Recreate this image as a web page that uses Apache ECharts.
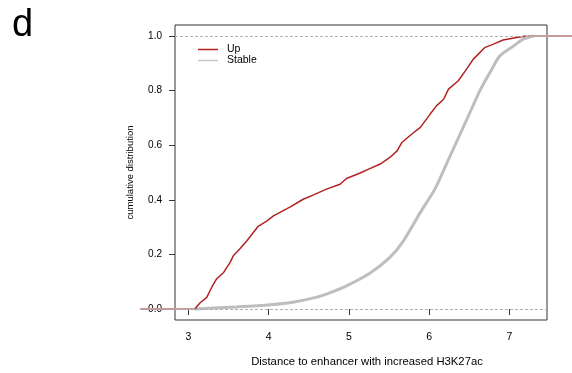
<!DOCTYPE html>
<html>
<head>
<meta charset="utf-8">
<script src="https://cdn.jsdelivr.net/npm/echarts@6/dist/echarts.min.js"></script>
<style>
  html, body { margin: 0; padding: 0; background: #fff; }
  #chart { width: 572px; height: 373px; }
</style>
</head>
<body>
<div id="chart"></div>
<script>
// ECDF: distance (x) and cumulative fraction (y)
var upX = [3.08, 3.15, 3.23, 3.29, 3.35, 3.44, 3.52, 3.56, 3.64, 3.73, 3.87, 3.98, 4.06, 4.27, 4.43, 4.56, 4.72, 4.89, 4.97, 5.14, 5.26, 5.39, 5.51, 5.60, 5.66, 5.78, 5.89, 6.01, 6.09, 6.18, 6.24, 6.36, 6.45, 6.55, 6.69, 6.80, 6.92, 7.09, 7.21];
var upY = [0.0, 0.024, 0.043, 0.079, 0.11, 0.134, 0.171, 0.195, 0.22, 0.25, 0.303, 0.323, 0.341, 0.374, 0.402, 0.418, 0.439, 0.457, 0.478, 0.498, 0.514, 0.531, 0.555, 0.579, 0.61, 0.64, 0.665, 0.713, 0.744, 0.768, 0.805, 0.835, 0.872, 0.915, 0.957, 0.97, 0.985, 0.994, 1.0];

var stableX = [3.08, 3.60, 4.02, 4.30, 4.55, 4.72, 4.97, 5.26, 5.51, 5.68, 5.89, 6.07, 6.26, 6.47, 6.63, 6.78, 6.88, 7.05, 7.17, 7.30];
var stableY = [0.0, 0.008, 0.016, 0.025, 0.040, 0.055, 0.085, 0.131, 0.189, 0.25, 0.354, 0.439, 0.561, 0.695, 0.799, 0.878, 0.927, 0.963, 0.988, 1.0];

// flat parts of the ECDF that run past the plot box
var tailLeftX = [2.40, 3.08];
var tailRightX = [7.22, 7.80];

var xTicks = [3, 4, 5, 6, 7];
var yTicks = [0, 0.2, 0.4, 0.6, 0.8, 1.0];

function pairs(xs, ys) {
  return xs.map(function (x, i) { return [x, ys[i]]; });
}

var chart = echarts.init(document.getElementById('chart'));
var font = 'Liberation Sans, Arial, sans-serif';

// plot box and its x range; a second, invisible grid spans the full width
// with the same scale so the ECDF tails can run outside the box
var boxLeft = 175, boxWidth = 372, xMin = 2.834, xMax = 7.467;
var perPx = (xMax - xMin) / boxWidth;
var wideMin = xMin - boxLeft * perPx;
var wideMax = xMax + (572 - boxLeft - boxWidth) * perPx;

var option = {
  animation: false,
  title: {
    text: 'd',
    left: 7,
    top: 2,
    textStyle: { fontSize: 38, fontWeight: 'normal', color: '#000', fontFamily: font }
  },
  legend: {
    data: [
      { name: 'Up', itemStyle: { color: '#b22222' } },
      { name: 'Stable', itemStyle: { color: '#c8c8c8' } }
    ],
    orient: 'vertical',
    left: 193,
    top: 39,
    icon: 'rect',
    itemWidth: 20,
    itemHeight: 1.5,
    itemGap: 0,
    textStyle: { fontSize: 10.5, color: '#000', fontFamily: font, lineHeight: 11, padding: [0, 0, 0, 4] }
  },
  grid: [
    {
      left: boxLeft, top: 25, width: boxWidth, height: 295,
      show: true, borderColor: '#333', borderWidth: 1, backgroundColor: 'transparent'
    },
    { left: 0, top: 25, width: 572, height: 295, show: false }
  ],
  xAxis: [
    {
      type: 'value',
      gridIndex: 0,
      min: xMin, max: xMax,
      name: 'Distance to enhancer with increased H3K27ac',
      nameLocation: 'middle',
      nameGap: 36,
      nameTextStyle: { fontSize: 11.3, color: '#000', fontFamily: font, padding: [0, 0, 0, 12] },
      axisLine: { show: false },
      splitLine: { show: false },
      axisTick: { show: true, length: 6, lineStyle: { color: '#333' }, customValues: xTicks },
      axisLabel: { margin: 12, fontSize: 10.5, color: '#000', fontFamily: font, customValues: xTicks }
    },
    {
      type: 'value',
      gridIndex: 1,
      min: wideMin, max: wideMax,
      show: false
    }
  ],
  yAxis: [
    {
      type: 'value',
      gridIndex: 0,
      min: -0.04, max: 1.04,
      name: 'cumulative distribution',
      nameLocation: 'middle',
      nameGap: 40,
      nameTextStyle: { fontSize: 9.5, color: '#000', fontFamily: font },
      axisLine: { show: false },
      splitLine: { show: false },
      axisTick: { show: true, length: 6, lineStyle: { color: '#333' }, customValues: yTicks },
      axisLabel: {
        margin: 13, fontSize: 10, color: '#000', fontFamily: font, customValues: yTicks,
        formatter: function (v) { return v.toFixed(1); }
      }
    },
    {
      type: 'value',
      gridIndex: 1,
      min: -0.04, max: 1.04,
      show: false
    }
  ],
  series: [
    {
      name: 'Stable',
      type: 'line',
      data: pairs(stableX, stableY),
      showSymbol: false,
      smooth: 0.3,
      color: '#c8c8c8',
      lineStyle: { width: 3, color: '#bebebe' },
      markLine: {
        silent: true,
        symbol: 'none',
        label: { show: false },
        lineStyle: { type: [3, 2], color: '#b0b0b0', width: 1 },
        data: [{ yAxis: 0 }, { yAxis: 1 }]
      },
      z: 2
    },
    {
      name: 'Up',
      type: 'line',
      data: pairs(upX, upY),
      showSymbol: false,
      color: '#b22222',
      lineStyle: { width: 1.5, color: '#b22222' },
      z: 3
    },
    {
      name: 'tailLeft',
      type: 'line',
      xAxisIndex: 1, yAxisIndex: 1,
      data: pairs(tailLeftX, [0, 0]),
      showSymbol: false,
      silent: true,
      lineStyle: { width: 2, color: '#c49a9a' },
      z: 4
    },
    {
      name: 'tailRight',
      type: 'line',
      xAxisIndex: 1, yAxisIndex: 1,
      data: pairs(tailRightX, [1, 1]),
      showSymbol: false,
      silent: true,
      lineStyle: { width: 2, color: '#c49a9a' },
      z: 4
    }
  ]
};

chart.setOption(option);
</script>
</body>
</html>
